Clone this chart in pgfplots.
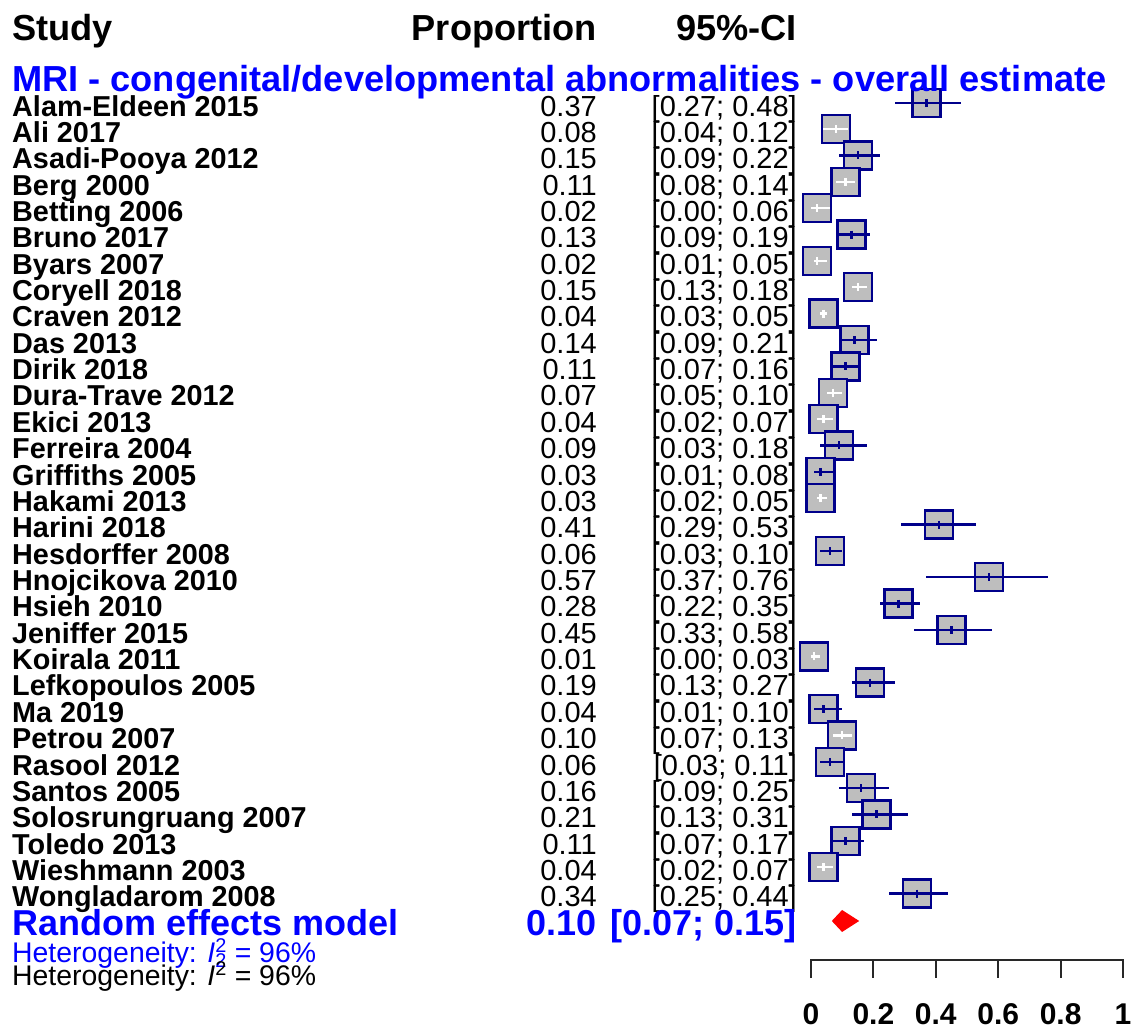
\documentclass[border=0pt]{standalone}
\usepackage{pgfplots}
\pgfplotsset{compat=1.18}
\usepackage{pgfplotstable}
\usepackage{fontspec}
\setmainfont{Liberation Sans}
\definecolor{navyb}{RGB}{0,0,139}
\definecolor{sqgray}{RGB}{190,190,190}
\definecolor{axgray}{RGB}{40,40,40}
\newcommand{\fs}[1]{\fontsize{#1}{#1}\selectfont}

% all studies: row index, estimate, lower, upper
\pgfplotstableread{
row est lo hi
0 0.37 0.27 0.48
1 0.08 0.04 0.12
2 0.15 0.09 0.22
3 0.11 0.08 0.14
4 0.02 0.00 0.06
5 0.13 0.09 0.19
6 0.02 0.01 0.05
7 0.15 0.13 0.18
8 0.04 0.03 0.05
9 0.14 0.09 0.21
10 0.11 0.07 0.16
11 0.07 0.05 0.10
12 0.04 0.02 0.07
13 0.09 0.03 0.18
14 0.03 0.01 0.08
15 0.03 0.02 0.05
16 0.41 0.29 0.53
17 0.06 0.03 0.10
18 0.57 0.37 0.76
19 0.28 0.22 0.35
20 0.45 0.33 0.58
21 0.01 0.00 0.03
22 0.19 0.13 0.27
23 0.04 0.01 0.10
24 0.10 0.07 0.13
25 0.06 0.03 0.11
26 0.16 0.09 0.25
27 0.21 0.13 0.31
28 0.11 0.07 0.17
29 0.04 0.02 0.07
30 0.34 0.25 0.44
}\allstudies

% confidence interval inside the square (white line)
\pgfplotstableread{
row est lo hi
1 0.08 0.04 0.12
3 0.11 0.08 0.14
4 0.02 0.00 0.06
6 0.02 0.01 0.05
7 0.15 0.13 0.18
8 0.04 0.03 0.05
11 0.07 0.05 0.10
12 0.04 0.02 0.07
15 0.03 0.02 0.05
21 0.01 0.00 0.03
24 0.10 0.07 0.13
29 0.04 0.02 0.07
}\insidestudies

% confidence interval beyond the square (navy line)
\pgfplotstableread{
row est lo hi
0 0.37 0.27 0.48
2 0.15 0.09 0.22
5 0.13 0.09 0.19
9 0.14 0.09 0.21
10 0.11 0.07 0.16
13 0.09 0.03 0.18
14 0.03 0.01 0.08
16 0.41 0.29 0.53
17 0.06 0.03 0.10
18 0.57 0.37 0.76
19 0.28 0.22 0.35
20 0.45 0.33 0.58
22 0.19 0.13 0.27
23 0.04 0.01 0.10
25 0.06 0.03 0.11
26 0.16 0.09 0.25
27 0.21 0.13 0.31
28 0.11 0.07 0.17
30 0.34 0.25 0.44
}\outsidestudies

\begin{document}
\begin{tikzpicture}
\path[use as bounding box] (0,0) rectangle (1139pt,-1029pt);
\begin{axis}[
  at={(0pt,0pt)}, anchor=north west,
  scale only axis, width=1139pt, height=1029pt,
  xmin=-2.59936, xmax=1.05128,
  ymin=-3.8979, ymax=35.138, y dir=reverse,
  hide axis, clip=false, clip mode=individual]
% squares
\addplot[only marks, mark=square*, mark size=14pt,
  mark options={line width=2.4pt, draw=navyb, fill=sqgray}]
  table[x=est, y=row] {\allstudies};
% white CI lines inside squares
\addplot[only marks, mark=|, mark size=4pt, draw=white,
  mark options={line width=2.4pt, draw=white},
  error bars/.cd, x dir=both, x explicit, error mark=none,
  error bar style={line width=2.4pt, white}]
  table[x=est, y=row,
    x error plus expr=\thisrow{hi}-\thisrow{est},
    x error minus expr=\thisrow{est}-\thisrow{lo}] {\insidestudies};
% navy CI lines
\addplot[only marks, mark=|, mark size=4pt, draw=navyb,
  mark options={line width=2.4pt, draw=navyb},
  error bars/.cd, x dir=both, x explicit, error mark=none,
  error bar style={line width=2.4pt, navyb}]
  table[x=est, y=row,
    x error plus expr=\thisrow{hi}-\thisrow{est},
    x error minus expr=\thisrow{est}-\thisrow{lo}] {\outsidestudies};
% pooled estimate diamond
\addplot[fill=red, draw=red, line width=1.5pt] coordinates {
  (0.07,31.04) (0.10,30.66) (0.15,31.04) (0.10,31.42)} -- cycle;
\end{axis}

% bottom axis
\draw[line width=2pt, axgray] (811pt,-978pt) -- (811pt,-960pt) -- (1123pt,-960pt) -- (1123pt,-978pt);
\foreach \v in {0.2,0.4,0.6,0.8}{
  \pgfmathsetmacro\xx{811+312*\v}
  \draw[line width=2pt, axgray] (\xx pt,-960pt) -- (\xx pt,-978pt);
}
\foreach \v/\t in {0/0,0.2/0.2,0.4/0.4,0.6/0.6,0.8/0.8,1/1}{
  \pgfmathsetmacro\xx{811+312*\v}
  \node[anchor=base, inner sep=0pt, font={\bfseries\fs{30}}] at (\xx pt,-1024pt) {\t};
}

% headers
\node[anchor=base west, inner sep=0pt, font={\bfseries\fs{36.2}}] at (12pt,-40pt) {Study};
\node[anchor=base east, inner sep=0pt, font={\bfseries\fs{36.2}}] at (597pt,-40pt) {Proportion};
\node[anchor=base east, inner sep=0pt, font={\bfseries\fs{36.2}}] at (797pt,-40pt) {95\%-CI};
\node[anchor=base west, inner sep=0pt, text=blue, font={\bfseries\fs{36.2}}] at (12pt,-91pt)
  {MRI - congenital/developmental abnormalities - overall estimate};

% study rows
\foreach \n/\p/\l/\h [count=\i from 0] in {
  Alam-Eldeen 2015/0.37/0.27/0.48,
  Ali 2017/0.08/0.04/0.12,
  Asadi-Pooya 2012/0.15/0.09/0.22,
  Berg 2000/0.11/0.08/0.14,
  Betting 2006/0.02/0.00/0.06,
  Bruno 2017/0.13/0.09/0.19,
  Byars 2007/0.02/0.01/0.05,
  Coryell 2018/0.15/0.13/0.18,
  Craven 2012/0.04/0.03/0.05,
  Das 2013/0.14/0.09/0.21,
  Dirik 2018/0.11/0.07/0.16,
  Dura-Trave 2012/0.07/0.05/0.10,
  Ekici 2013/0.04/0.02/0.07,
  Ferreira 2004/0.09/0.03/0.18,
  Griffiths 2005/0.03/0.01/0.08,
  Hakami 2013/0.03/0.02/0.05,
  Harini 2018/0.41/0.29/0.53,
  Hesdorffer 2008/0.06/0.03/0.10,
  Hnojcikova 2010/0.57/0.37/0.76,
  Hsieh 2010/0.28/0.22/0.35,
  Jeniffer 2015/0.45/0.33/0.58,
  Koirala 2011/0.01/0.00/0.03,
  Lefkopoulos 2005/0.19/0.13/0.27,
  Ma 2019/0.04/0.01/0.10,
  Petrou 2007/0.10/0.07/0.13,
  Rasool 2012/0.06/0.03/0.11,
  Santos 2005/0.16/0.09/0.25,
  Solosrungruang 2007/0.21/0.13/0.31,
  Toledo 2013/0.11/0.07/0.17,
  Wieshmann 2003/0.04/0.02/0.07,
  Wongladarom 2008/0.34/0.25/0.44}{
  \pgfmathsetmacro\yy{-116-26.36*\i}
  \node[anchor=base west, inner sep=0pt, font={\bfseries\fs{28.8}}] at (12pt,\yy pt) {\n};
  \node[anchor=base east, inner sep=0pt, font={\fs{29}}] at (597pt,\yy pt) {\p};
  \node[anchor=base east, inner sep=0pt, font={\fs{29}}] at (797pt,\yy pt) {[\l; \h]};
}

% pooled row
\node[anchor=base west, inner sep=0pt, text=blue, font={\bfseries\fs{36}}] at (12pt,-935pt) {Random effects model};
\node[anchor=base east, inner sep=0pt, text=blue, font={\bfseries\fs{36}}] at (597pt,-935pt) {0.10};
\node[anchor=base east, inner sep=0pt, text=blue, font={\bfseries\fs{36}}] at (797pt,-935pt) {[0.07; 0.15]};

% heterogeneity
\node[anchor=base west, inner sep=0pt, text=blue, font={\fs{28.4}}] at (12pt,-962pt)
  {Heterogeneity: \textit{I}\rlap{\textsuperscript{2}}\textsubscript{2} = 96\%};
\node[anchor=base west, inner sep=0pt, text=black, font={\fs{28.4}}] at (12pt,-985pt)
  {Heterogeneity: \textit{I}\textsuperscript{2} = 96\%};
\end{tikzpicture}
\end{document}
